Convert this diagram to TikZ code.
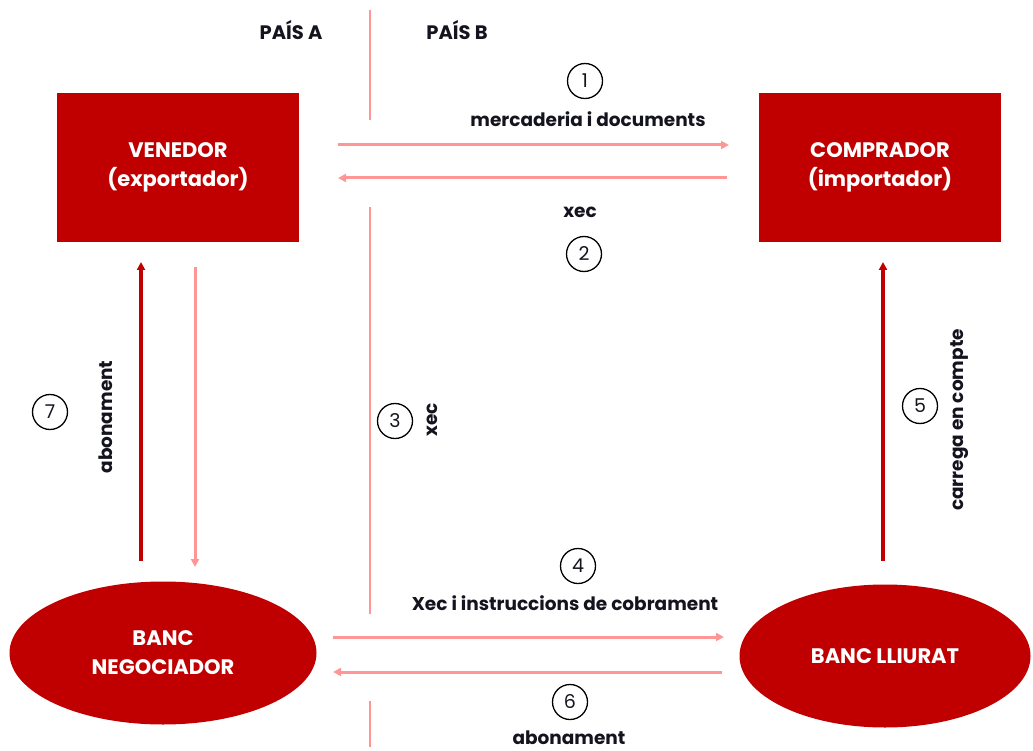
\documentclass[tikz,border=0pt]{standalone}
\usepackage{fontspec}
\setmainfont{Poppins}
\usetikzlibrary{shapes.geometric,arrows.meta}
\definecolor{boxred}{RGB}{192,0,0}
\definecolor{flowpink}{RGB}{255,150,150}
\definecolor{inkdark}{RGB}{20,20,30}
\begin{document}
\begin{tikzpicture}[x=1pt,y=-1pt,
  party/.style={fill=boxred,draw=none,text=white,font=\bfseries\fontsize{21}{29}\selectfont,align=center},
  flow/.style={draw=flowpink,line width=3pt,-{Triangle[length=8pt,width=8pt]}},
  credit/.style={draw=boxred,line width=3.2pt,-{Triangle[length=8pt,width=8pt]}},
  divider/.style={draw=flowpink,line width=2.6pt},
  lbl/.style={text=inkdark,font=\bfseries\fontsize{18.5}{22}\selectfont},
  stepnum/.style={circle,draw=black,line width=1.3pt,minimum size=35pt,inner sep=0pt,text=inkdark,font=\fontsize{19}{22}\selectfont}]
\useasboundingbox (0,0) rectangle (1033,751);

% country labels and border
\node[lbl,font=\bfseries\fontsize{19.5}{22}\selectfont] (pa) at (291,30) {PAÍS A};
\node[lbl,font=\bfseries\fontsize{19.5}{22}\selectfont] (pb) at (457,30) {PAÍS B};
\coordinate (d1) at (370,10);  \coordinate (d2) at (370,120);
\coordinate (d3) at (370,207); \coordinate (d4) at (370,614);
\coordinate (d5) at (370,701); \coordinate (d6) at (370,747);
\draw[divider] (d1) -- (d2);
\draw[divider] (d3) -- (d4);
\draw[divider] (d5) -- (d6);

% parties
\node[party,minimum width=242pt,minimum height=149pt] (ven) at (178,167.5) {VENEDOR\\(exportador)};
\node[party,minimum width=242pt,minimum height=149pt] (com) at (880,167.5) {COMPRADOR\\(importador)};
\node[party,ellipse,minimum width=307pt,minimum height=143pt,inner sep=0pt] (neg) at (163,653) {BANC\\NEGOCIADOR};
\node[party,ellipse,minimum width=291pt,minimum height=143pt,inner sep=0pt] (llu) at (885,656) {BANC LLIURAT};

% goods and documents / cheque between the parties
\coordinate (a1s) at (338,145); \coordinate (a1e) at (729,145);
\coordinate (a2s) at (727,178); \coordinate (a2e) at (338,178);
\draw[flow] (a1s) -- (a1e);
\draw[flow] (a2s) -- (a2e);
\node[stepnum] (n1) at (585,81) {1};
\node[lbl] (l1) at (588,119) {mercaderia i documents};
\node[lbl] (l2) at (580,212) {xec};
\node[stepnum] (n2) at (584,254) {2};

% seller and negotiating bank
\coordinate (a7s) at (141,561); \coordinate (a7e) at (141,262);
\coordinate (b7s) at (195,267); \coordinate (b7e) at (195,567);
\draw[credit] (a7s) -- (a7e);
\draw[flow] (b7s) -- (b7e);
\node[stepnum] (n7) at (50,412) {7};
\node[lbl,rotate=90] (l7) at (106,417) {abonament};

% cheque into the bank
\node[stepnum] (n3) at (395,421) {3};
\node[lbl,rotate=90] (l3) at (432,420) {xec};

% buyer's bank debits the buyer
\coordinate (a5s) at (883,561); \coordinate (a5e) at (883,262);
\draw[credit] (a5s) -- (a5e);
\node[stepnum] (n5) at (920,406) {5};
\node[lbl,rotate=90] (l5) at (960,420) {carrega en compte};

% between the banks
\node[stepnum] (n4) at (578,566) {4};
\node[lbl] (l4) at (565,603) {Xec i instruccions de cobrament};
\coordinate (a4s) at (333,637); \coordinate (a4e) at (724,637);
\coordinate (a6s) at (722,672); \coordinate (a6e) at (333,672);
\draw[flow] (a4s) -- (a4e);
\draw[flow] (a6s) -- (a6e);
\node[stepnum] (n6) at (570,702) {6};
\node[lbl] (l6) at (569,738) {abonament};
\end{tikzpicture}
\end{document}
